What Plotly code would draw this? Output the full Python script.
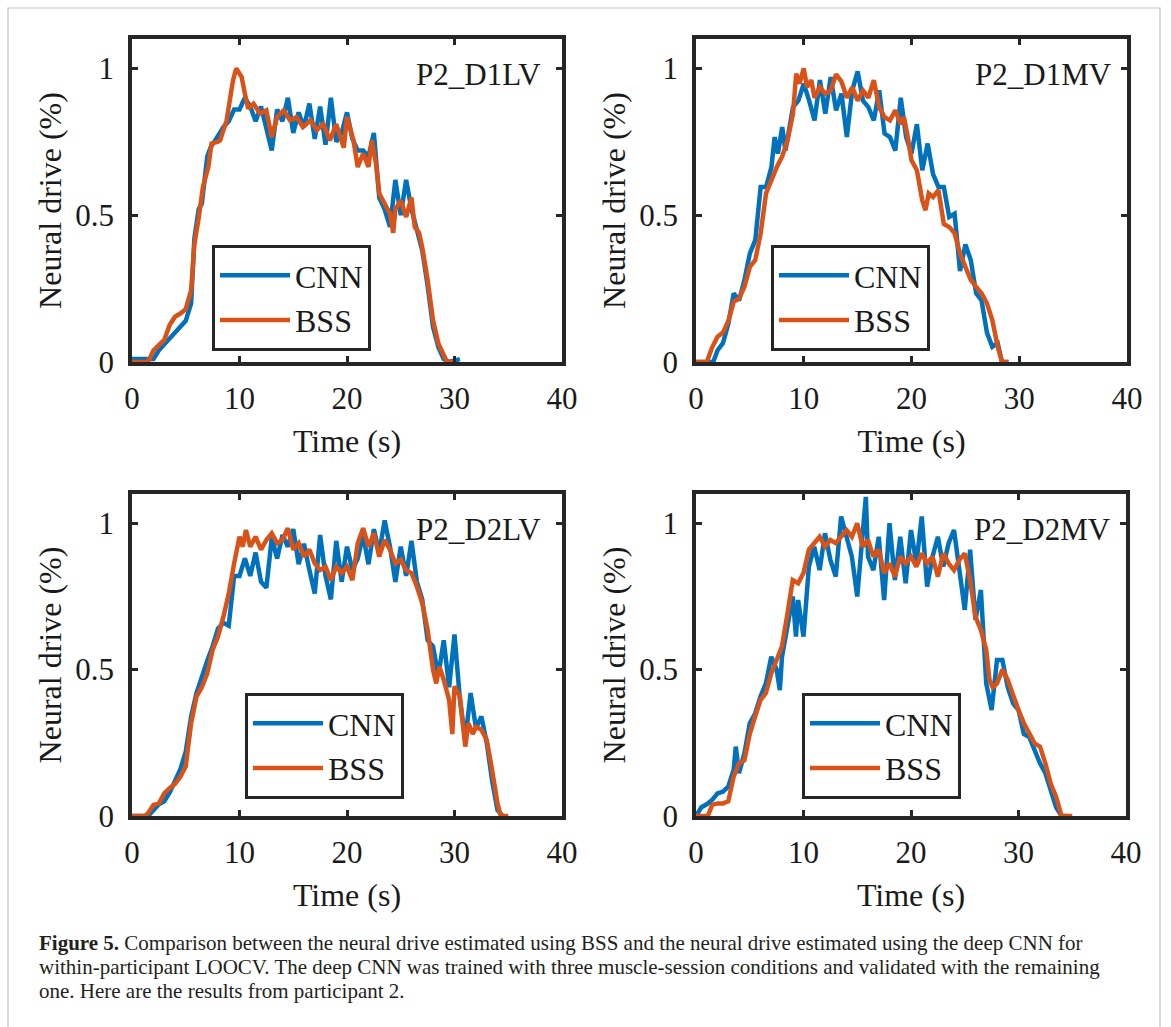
import plotly.graph_objects as go

# ---------------- data ----------------
series_names = ["CNN", "BSS"]
panel_labels = ["P2_D1LV", "P2_D1MV", "P2_D2LV", "P2_D2MV"]
x_ticks = [0, 10, 20, 30, 40]
y_ticks = [0, 0.5, 1]
y_tick_text = ["0", "0.5", "1"]

# Panel 1: P2_D1LV
t_cnn_1 = [0, 2, 2.5, 3, 3.5, 4, 4.5, 5, 5.5, 5.8, 6.2, 6.5, 7, 7.3, 8, 8.5, 9, 9.5, 10, 10.5,
           11, 11.5, 12, 12.5, 13, 13.5, 14, 14.5, 15, 15.5, 16, 16.5, 17, 17.5, 18, 18.5, 19, 19.5, 20, 20.5,
           21, 21.5, 22, 22.5, 23, 23.5, 24, 24.5, 25, 25.5, 26, 26.5, 27, 27.5, 28, 28.5, 29, 29.5, 30.5]
v_cnn_1 = [0.01, 0.01, 0.04, 0.06, 0.08, 0.10, 0.12, 0.14, 0.20, 0.42, 0.52, 0.54, 0.70, 0.73, 0.77, 0.80, 0.82, 0.86, 0.86, 0.90,
           0.87, 0.82, 0.87, 0.80, 0.72, 0.86, 0.82, 0.90, 0.78, 0.85, 0.80, 0.88, 0.76, 0.87, 0.74, 0.90, 0.75, 0.78, 0.85, 0.76,
           0.72, 0.72, 0.70, 0.78, 0.56, 0.52, 0.46, 0.62, 0.50, 0.62, 0.52, 0.45, 0.38, 0.26, 0.12, 0.05, 0.01, 0.0, 0.01]
t_bss_1 = [0, 1.5, 2, 2.5, 3, 3.5, 4, 4.5, 5, 5.5, 5.8, 6.2, 6.6, 7.1, 7.4, 8, 8.2, 8.8, 9.4, 9.7,
           10.2, 10.5, 10.8, 11.3, 11.9, 12.5, 13, 13.5, 14.1, 14.7, 15.3, 15.9, 16.6, 17.2, 17.8, 18.4, 19, 19.7, 20, 20.6,
           21, 21.5, 22, 22.3, 22.7, 23, 23.5, 24, 24.3, 24.5, 25, 25.5, 26, 26.3, 26.7, 27, 27.5, 28, 28.5, 29,
           29.3, 30]
v_bss_1 = [0, 0, 0.04, 0.06, 0.075, 0.126, 0.154, 0.165, 0.18, 0.245, 0.40, 0.49, 0.596, 0.664, 0.744, 0.75, 0.755, 0.823, 0.96, 1.0,
           0.97, 0.914, 0.863, 0.88, 0.846, 0.857, 0.766, 0.834, 0.857, 0.823, 0.834, 0.80, 0.823, 0.79, 0.81, 0.755, 0.81, 0.73, 0.834, 0.755,
           0.664, 0.71, 0.664, 0.755, 0.675, 0.574, 0.54, 0.505, 0.44, 0.52, 0.55, 0.494, 0.56, 0.46, 0.44, 0.39, 0.28, 0.143, 0.063, 0.018,
           0, 0]

# Panel 2: P2_D1MV
t_cnn_2 = [0, 1.6, 2, 2.5, 3, 3.5, 4, 4.5, 5, 5.5, 6, 6.5, 7, 7.3, 7.6, 8, 8.3, 8.6, 9, 9.5,
           10, 10.5, 11, 11.5, 12, 12.5, 13, 13.5, 14, 14.5, 15, 15.5, 16, 16.5, 17, 17.5, 18, 18.5, 19, 19.5,
           20, 20.5, 21, 21.5, 22, 22.5, 23, 23.5, 24, 24.5, 25, 25.5, 26, 26.5, 27, 27.5, 28, 28.4, 29]
v_cnn_2 = [0, 0, 0.04, 0.064, 0.13, 0.234, 0.21, 0.28, 0.37, 0.415, 0.596, 0.596, 0.664, 0.766, 0.71, 0.80, 0.72, 0.79, 0.868, 0.89,
           0.948, 0.89, 0.823, 0.96, 0.846, 0.97, 0.857, 0.914, 0.766, 0.925, 0.99, 0.89, 0.868, 0.823, 0.925, 0.778, 0.766, 0.72, 0.90, 0.766,
           0.71, 0.81, 0.653, 0.744, 0.64, 0.596, 0.596, 0.494, 0.505, 0.31, 0.40, 0.347, 0.234, 0.21, 0.10, 0.052, 0.064, 0, 0]
t_bss_2 = [0, 1.0, 1.5, 2, 2.5, 3, 3.5, 4, 4.5, 5, 5.5, 6, 6.5, 7, 7.5, 8, 8.5, 9, 9.3, 9.6,
           10, 10.3, 10.7, 11, 11.5, 12, 12.5, 13, 13.5, 14, 14.5, 15, 15.5, 16, 16.5, 17, 17.5, 18, 18.5, 19,
           19.3, 19.6, 20, 20.5, 21, 21.3, 21.6, 22, 22.5, 23, 23.5, 24, 24.5, 25, 25.5, 26, 26.5, 27, 27.5, 28,
           28.4, 29]
v_bss_2 = [0, 0, 0.05, 0.086, 0.10, 0.14, 0.205, 0.217, 0.256, 0.324, 0.347, 0.438, 0.574, 0.62, 0.664, 0.70, 0.755, 0.846, 0.982, 0.948,
           1.0, 0.936, 0.96, 0.90, 0.936, 0.914, 0.925, 0.98, 0.955, 0.90, 0.936, 0.89, 0.925, 0.90, 0.96, 0.868, 0.834, 0.823, 0.857, 0.81,
           0.834, 0.778, 0.687, 0.653, 0.55, 0.517, 0.574, 0.562, 0.585, 0.47, 0.46, 0.438, 0.37, 0.324, 0.28, 0.256, 0.234, 0.20, 0.143, 0.052,
           0, 0]

# Panel 3: P2_D2LV
t_cnn_3 = [0, 1.5, 2, 2.5, 3, 3.5, 4, 4.5, 5, 5.5, 6, 6.5, 7, 7.5, 8, 8.5, 9, 9.5, 10, 10.5,
           11, 11.5, 12, 12.5, 13, 13.5, 14, 14.5, 15, 15.5, 16, 16.5, 17, 17.5, 18, 18.5, 19, 19.5, 20, 20.5,
           21, 21.5, 22, 22.5, 23, 23.5, 24, 24.5, 25, 25.5, 26, 26.5, 27, 27.5, 28, 28.5, 29, 29.5, 30, 30.5,
           31, 31.5, 32, 32.5, 33, 33.5, 34, 34.5]
v_cnn_3 = [0, 0, 0.02, 0.04, 0.05, 0.08, 0.12, 0.16, 0.22, 0.34, 0.42, 0.48, 0.53, 0.58, 0.64, 0.66, 0.65, 0.82, 0.82, 0.88,
           0.82, 0.90, 0.80, 0.78, 0.95, 0.88, 0.96, 0.92, 0.98, 0.86, 0.93, 0.84, 0.76, 0.96, 0.82, 0.74, 0.94, 0.80, 0.92, 0.84,
           0.88, 0.96, 0.86, 0.98, 0.90, 1.01, 0.92, 0.80, 0.92, 0.82, 0.94, 0.80, 0.74, 0.60, 0.58, 0.48, 0.60, 0.44, 0.62, 0.40,
           0.26, 0.42, 0.30, 0.34, 0.25, 0.12, 0.02, 0.0]
t_bss_3 = [0, 1.2, 1.5, 2, 2.5, 3, 3.5, 4, 4.5, 5, 5.5, 6, 6.5, 7, 7.5, 8, 8.5, 9, 9.5, 10,
           10.3, 10.6, 11, 11.5, 12, 12.5, 13, 13.5, 14, 14.5, 15, 15.5, 16, 16.5, 17, 17.5, 18, 18.5, 19, 19.5,
           20, 20.5, 21, 21.5, 22, 22.5, 23, 23.5, 24, 24.5, 25, 25.5, 26, 26.5, 27, 27.5, 28, 28.3, 28.6, 29,
           29.5, 29.8, 30, 30.5, 31, 31.3, 31.7, 32, 32.5, 33, 33.5, 34, 34.3, 35]
v_bss_3 = [0, 0, 0.01, 0.038, 0.043, 0.077, 0.095, 0.11, 0.134, 0.17, 0.317, 0.408, 0.44, 0.487, 0.567, 0.613, 0.68, 0.76, 0.863, 0.954,
           0.92, 0.977, 0.92, 0.954, 0.91, 0.943, 0.966, 0.932, 0.943, 0.983, 0.91, 0.932, 0.886, 0.91, 0.863, 0.84, 0.852, 0.806, 0.852, 0.83,
           0.852, 0.806, 0.932, 0.983, 0.92, 0.966, 0.886, 0.943, 0.91, 0.863, 0.875, 0.84, 0.83, 0.784, 0.727, 0.636, 0.5, 0.453, 0.51, 0.465,
           0.396, 0.28, 0.443, 0.408, 0.237, 0.317, 0.28, 0.305, 0.294, 0.26, 0.157, 0.043, 0, 0]

# Panel 4: P2_D2MV
t_cnn_4 = [0, 0.5, 1, 1.5, 2, 2.5, 3, 3.5, 3.7, 4, 4.5, 5, 5.5, 6, 6.5, 7, 7.5, 7.8, 8, 8.5,
           9, 9.3, 9.5, 10, 10.5, 11, 11.5, 12, 12.5, 13, 13.5, 14, 14.5, 15, 15.5, 15.8, 16, 16.5, 17, 17.5,
           18, 18.5, 19, 19.5, 20, 20.5, 21, 21.5, 22, 22.5, 23, 23.5, 24, 24.5, 25, 25.5, 26, 26.5, 27, 27.5,
           28, 28.5, 29, 29.5, 30, 30.5, 31, 31.5, 32, 32.5, 33, 33.5, 34, 34.5]
v_cnn_4 = [0, 0.03, 0.04, 0.055, 0.077, 0.083, 0.10, 0.157, 0.237, 0.146, 0.214, 0.317, 0.35, 0.408, 0.453, 0.544, 0.50, 0.43, 0.544, 0.658,
           0.75, 0.613, 0.738, 0.613, 0.852, 0.92, 0.84, 0.966, 0.875, 0.818, 1.023, 0.954, 0.886, 0.75, 0.977, 1.09, 0.886, 0.84, 0.954, 0.738,
           1.0, 0.806, 0.954, 0.795, 0.977, 0.863, 1.023, 0.784, 0.886, 0.954, 0.852, 0.932, 0.977, 0.84, 0.704, 0.91, 0.67, 0.772, 0.453, 0.362,
           0.533, 0.533, 0.44, 0.385, 0.362, 0.28, 0.27, 0.225, 0.18, 0.146, 0.09, 0.03, 0, 0]
t_bss_4 = [0, 1.1, 1.5, 2, 2.5, 3, 3.5, 4, 4.5, 5, 5.5, 6, 6.5, 7, 7.5, 8, 8.5, 9, 9.5, 10,
           10.5, 11, 11.5, 12, 12.5, 13, 13.5, 14, 14.5, 15, 15.5, 16, 16.5, 17, 17.5, 18, 18.5, 19, 19.5, 20,
           20.5, 21, 21.5, 22, 22.5, 23, 23.5, 24, 24.5, 25, 25.5, 26, 26.5, 27, 27.3, 27.6, 28, 28.5, 29, 29.5,
           30, 30.5, 31, 31.5, 32, 32.5, 33, 33.5, 34, 35]
v_bss_4 = [0, 0, 0.038, 0.043, 0.043, 0.05, 0.134, 0.18, 0.19, 0.28, 0.34, 0.396, 0.42, 0.487, 0.533, 0.58, 0.69, 0.806, 0.795, 0.83,
           0.91, 0.932, 0.954, 0.92, 0.943, 0.932, 0.954, 0.977, 0.954, 1.0, 0.92, 0.943, 0.886, 0.91, 0.83, 0.863, 0.818, 0.886, 0.863, 0.886,
           0.852, 0.897, 0.863, 0.886, 0.818, 0.897, 0.863, 0.84, 0.875, 0.897, 0.806, 0.68, 0.636, 0.567, 0.465, 0.44, 0.453, 0.5, 0.465, 0.408,
           0.362, 0.317, 0.28, 0.248, 0.237, 0.18, 0.11, 0.066, 0, 0]

caption_lines = [
    "<b>Figure 5.</b> Comparison between the neural drive estimated using BSS and the neural drive estimated using the deep CNN for",
    "within-participant LOOCV. The deep CNN was trained with three muscle-session conditions and validated with the remaining",
    "one. Here are the results from participant 2.",
]

# ---------------- styling / layout ----------------
W, H = 1171, 1027
FONT = "Liberation Serif, Times New Roman, serif"
AX = "#262626"
TXT = "#1a1a1a"
COL_CNN = "#0072BD"
COL_BSS = "#D95319"

panels = [
    (t_cnn_1, v_cnn_1, t_bss_1, v_bss_1),
    (t_cnn_2, v_cnn_2, t_bss_2, v_bss_2),
    (t_cnn_3, v_cnn_3, t_bss_3, v_bss_3),
    (t_cnn_4, v_cnn_4, t_bss_4, v_bss_4),
]

# axes boxes in pixels (left, right, top, bottom)
boxes = [(132, 562, 39, 362), (696, 1127, 39, 362), (132, 562, 494, 816), (696, 1126, 494, 816)]
legend_pos = [(212, 245), (771, 245), (245, 693), (802, 693)]
label_x = [0.956, 0.97, 0.956, 0.97]

fig = go.Figure()
layout = dict(
    width=W, height=H,
    margin=dict(l=0, r=0, t=0, b=0, autoexpand=False),
    paper_bgcolor="white", plot_bgcolor="white",
    font=dict(family=FONT, color=TXT),
    showlegend=True,
)
annotations = []
for i, (tc, vc, tb, vb) in enumerate(panels):
    n = i + 1
    xa = "x" if n == 1 else f"x{n}"
    ya = "y" if n == 1 else f"y{n}"
    lg = "legend" if n == 1 else f"legend{n}"
    fig.add_trace(go.Scatter(x=tc, y=vc, mode="lines", name=series_names[0],
                             line=dict(color=COL_CNN, width=4.5), xaxis=xa, yaxis=ya, legend=lg))
    fig.add_trace(go.Scatter(x=tb, y=vb, mode="lines", name=series_names[1],
                             line=dict(color=COL_BSS, width=4.5), xaxis=xa, yaxis=ya, legend=lg))
    l, r, t, b = boxes[i]
    common = dict(showline=True, mirror="ticks", linecolor=AX, linewidth=3.5,
                  ticks="inside", ticklen=6, tickwidth=3, tickcolor=AX,
                  showgrid=False, zeroline=False, automargin=False,
                  tickfont=dict(family=FONT, size=31, color=TXT))
    layout["xaxis" if n == 1 else f"xaxis{n}"] = dict(
        common, domain=[l / W, r / W], anchor=ya, range=[0, 40],
        tickvals=x_ticks, ticklabelstandoff=6,
        title=dict(text="Time (s)", font=dict(family=FONT, size=32, color=TXT), standoff=16))
    layout["yaxis" if n == 1 else f"yaxis{n}"] = dict(
        common, domain=[1 - b / H, 1 - t / H], anchor=xa, range=[0, 1.1],
        tickvals=y_ticks, ticktext=y_tick_text, ticklabelstandoff=8,
        title=dict(text="Neural drive (%)", font=dict(family=FONT, size=32, color=TXT), standoff=5))
    lx, ly = legend_pos[i]
    layout[lg] = dict(x=lx / W, y=1 - ly / H, xanchor="left", yanchor="top",
                      bgcolor="white", bordercolor=AX, borderwidth=3,
                      font=dict(family=FONT, size=32, color=TXT),
                      itemwidth=70, tracegroupgap=0)
    annotations.append(dict(text=panel_labels[i], xref=f"{xa} domain", yref=f"{ya} domain",
                            x=label_x[i], y=0.89, xanchor="right", yanchor="middle",
                            showarrow=False, font=dict(family=FONT, size=31, color=TXT)))

cap_y = [943, 967, 991]
for txt, yy in zip(caption_lines, cap_y):
    annotations.append(dict(text=txt, xref="paper", yref="paper", x=37 / W, y=1 - yy / H,
                            xanchor="left", yanchor="middle", showarrow=False,
                            font=dict(family=FONT, size=21, color="#231f20")))

layout["annotations"] = annotations
layout["shapes"] = [dict(type="rect", xref="paper", yref="paper",
                         x0=8 / W, x1=1160 / W, y0=-0.05, y1=1 - 8 / H,
                         line=dict(color="#c4c4c4", width=1.2), fillcolor="rgba(0,0,0,0)", layer="below")]
fig.update_layout(**layout)
fig.write_html(
    "out.html",
    config={"displayModeBar": False},
    post_script="document.body.style.margin='0';document.body.style.overflow='hidden';"
                "document.documentElement.style.overflow='hidden';",
)
